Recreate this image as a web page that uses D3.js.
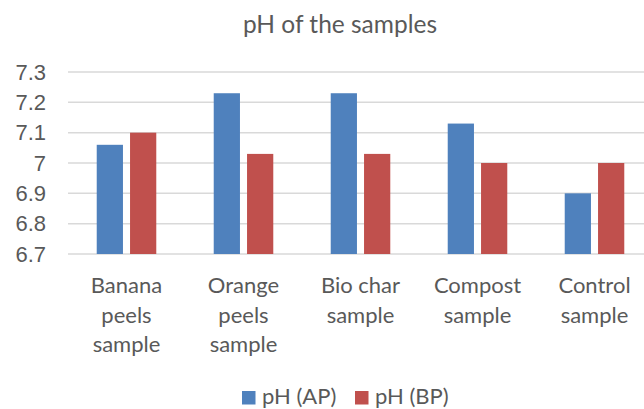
<!DOCTYPE html>
<html lang="en">
<head>
<meta charset="utf-8">
<style>
    body { margin: 0; background: #fff; }
    svg { display: block; font-family: Lato, "Open Sans", sans-serif; }
    .tick text { fill: #595959; font-size: 22px; }
    .grid line { stroke: #d9d9d9; stroke-width: 1.5px; }
    .title { fill: #595959; font-size: 24.5px; text-anchor: middle; }
    .cat { fill: #595959; font-size: 22px; text-anchor: middle; }
    .legend text { fill: #595959; font-size: 22px; }
</style>
<script src="https://d3js.org/d3.v7.min.js"></script>
</head>
<body>
<svg width="644" height="409"></svg>
<script>
    // data
    var categories = [["Banana", "peels", "sample"], ["Orange", "peels", "sample"],
        ["Bio char", "sample"], ["Compost", "sample"], ["Control", "sample"]];
    var seriesNames = ["pH (AP)", "pH (BP)"];
    var phAP = [7.06, 7.23, 7.23, 7.13, 6.90];
    var phBP = [7.10, 7.03, 7.03, 7.00, 7.00];
    var tickValues = [6.7, 6.8, 6.9, 7.0, 7.1, 7.2, 7.3];
    var tickLabels = ["6.7", "6.8", "6.9", "7", "7.1", "7.2", "7.3"];
    var colors = ["#4f81bd", "#c0504d"];

    var svg = d3.select("svg");

    var x0 = d3.scaleBand()
        .domain(d3.range(categories.length))
        .range([68, 653])
        .paddingInner(0.491)
        .paddingOuter(0.2455);

    var x1 = d3.scaleBand()
        .domain([0, 1])
        .range([0, x0.bandwidth()])
        .paddingInner(0.2126);

    var y = d3.scaleLinear().domain([6.7, 7.3]).range([254, 72]);

    // gridlines
    svg.append("g")
        .attr("class", "grid")
        .selectAll("line")
        .data(tickValues)
        .enter().append("line")
        .attr("x1", 68)
        .attr("x2", 653)
        .attr("y1", function(d) { return y(d); })
        .attr("y2", function(d) { return y(d); });

    // y axis labels
    var yAxis = d3.axisLeft(y)
        .tickValues(tickValues)
        .tickSize(0)
        .tickPadding(0)
        .tickFormat(function(d, i) { return tickLabels[i]; });

    svg.append("g")
        .attr("transform", "translate(46,0)")
        .call(yAxis)
        .call(function(g) { g.select(".domain").remove(); });

    // bars
    var series = [phAP, phBP];
    series.forEach(function(vals, s) {
        svg.append("g")
            .selectAll("rect")
            .data(vals)
            .enter().append("rect")
            .attr("x", function(d, i) { return x0(i) + x1(s); })
            .attr("width", x1.bandwidth())
            .attr("y", function(d) { return y(d); })
            .attr("height", function(d) { return y(6.7) - y(d); })
            .attr("fill", colors[s]);
    });

    // category labels
    var cat = svg.append("g")
        .selectAll("text")
        .data(categories)
        .enter().append("text")
        .attr("class", "cat")
        .attr("transform", function(d, i) {
            return "translate(" + (x0(i) + x0.bandwidth() / 2) + ",293)";
        });
    cat.selectAll("tspan")
        .data(function(d) { return d; })
        .enter().append("tspan")
        .attr("x", 0)
        .attr("y", function(d, i) { return i * 29.5; })
        .text(function(d) { return d; });

    // title
    svg.append("text")
        .attr("class", "title")
        .attr("x", 340)
        .attr("y", 33)
        .text("pH of the samples");

    // legend
    var legendX = [242, 355];
    var legend = svg.append("g")
        .attr("class", "legend")
        .selectAll("g")
        .data(seriesNames)
        .enter().append("g")
        .attr("transform", function(d, i) { return "translate(" + legendX[i] + ",391)"; });
    legend.append("rect")
        .attr("width", 13.5)
        .attr("height", 13.5)
        .attr("fill", function(d, i) { return colors[i]; });
    legend.append("text")
        .attr("x", 20)
        .attr("y", 12.5)
        .text(function(d) { return d; });
</script>
</body>
</html>
